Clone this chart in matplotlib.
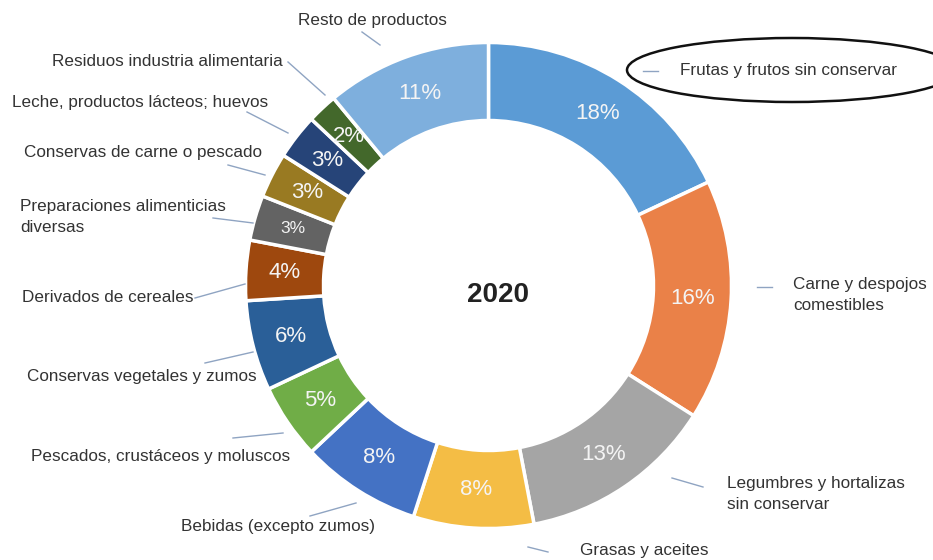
import numpy as np
import matplotlib.pyplot as plt
from matplotlib.patches import Ellipse

# --- data (clockwise from the top) ---
categories = [
    "Frutas y frutos sin conservar",
    "Carne y despojos\ncomestibles",
    "Legumbres y hortalizas\nsin conservar",
    "Grasas y aceites",
    "Bebidas (excepto zumos)",
    "Pescados, crustáceos y moluscos",
    "Conservas vegetales y zumos",
    "Derivados de cereales",
    "Preparaciones alimenticias\ndiversas",
    "Conservas de carne o pescado",
    "Leche, productos lácteos; huevos",
    "Residuos industria alimentaria",
    "Resto de productos",
]
shares = [18, 16, 13, 8, 8, 5, 6, 4, 3, 3, 3, 2, 11]
colors = ["#5b9bd5", "#ea8148", "#a5a5a5", "#f4bd45", "#4472c4", "#70ad47",
          "#2a5f98", "#9e480e", "#636363", "#997a22", "#264478", "#43682b",
          "#7eafdd"]
year = "2020"

W, H = 933, 560


def px(x, y):
    # pixel coords (origin top-left) -> axes data coords
    return x, H - y


# label layout: text anchor, alignment, leader line (pixel coords)
label_pos = [
    ((680, 71), "left", ((643, 71), (658, 71))),
    ((793, 295), "left", ((757, 287), (772, 287))),
    ((727, 494), "left", ((672, 478), (703, 487))),
    ((580, 551), "left", ((528, 547), (548, 552))),
    ((375, 527), "right", ((310, 516), (356, 503))),
    ((290, 457), "right", ((233, 438), (283, 433))),
    ((257, 376), "right", ((205, 363), (253, 352))),
    ((193, 298), "right", ((195, 298), (245, 284))),
    ((20, 217), "left", ((213, 218), (253, 223))),
    ((262, 152), "right", ((228, 165), (265, 175))),
    ((268, 103), "right", ((247, 112), (288, 133))),
    ((283, 61), "right", ((288, 62), (325, 95))),
    ((372, 20), "center", ((362, 32), (380, 45))),
]
pct_sizes = [16, 16, 16, 16, 16, 16, 16, 16, 12.5, 16, 16, 16, 16]

fig = plt.figure(figsize=(W / 100, H / 100), dpi=100)
ax = fig.add_axes([0, 0, 1, 1])

cx, cy = px(488.5, 285.5)
r_out, ring = 243, 78
wedges, _ = ax.pie(shares, colors=colors, startangle=90, counterclock=False,
                   radius=r_out, center=(cx, cy), frame=True,
                   wedgeprops=dict(width=ring, edgecolor="white", linewidth=2.5))
ax.set_xlim(0, W)
ax.set_ylim(0, H)
ax.set_aspect("equal")
ax.axis("off")

# percentage labels in the middle of the ring
r_mid = r_out - ring / 2
for w, v, fs in zip(wedges, shares, pct_sizes):
    ang = np.deg2rad((w.theta1 + w.theta2) / 2)
    ax.text(cx + r_mid * np.cos(ang), cy + r_mid * np.sin(ang), f"{v}%",
            ha="center", va="center", fontsize=fs, color="#f4f4f4",
            family="Liberation Sans")

# category labels + short leader lines
for name, ((tx, ty), ha, (p0, p1)) in zip(categories, label_pos):
    ax.text(*px(tx, ty), name, ha=ha, va="center", fontsize=12.3,
            color="#333333", family="Liberation Sans", linespacing=1.45)
    (x0, y0), (x1, y1) = px(*p0), px(*p1)
    ax.plot([x0, x1], [y0, y1], color="#8fa4c2", lw=1)

ax.text(*px(498, 295), year, ha="center", va="center", fontsize=20,
        fontweight="bold", color="#222222", family="Liberation Sans")

# hand-drawn highlight round the first label
ax.add_patch(Ellipse(px(792, 70), 330, 64, fill=False, ec="#111111", lw=1.8,
                     clip_on=True))

fig.savefig("out.png", dpi=100)
